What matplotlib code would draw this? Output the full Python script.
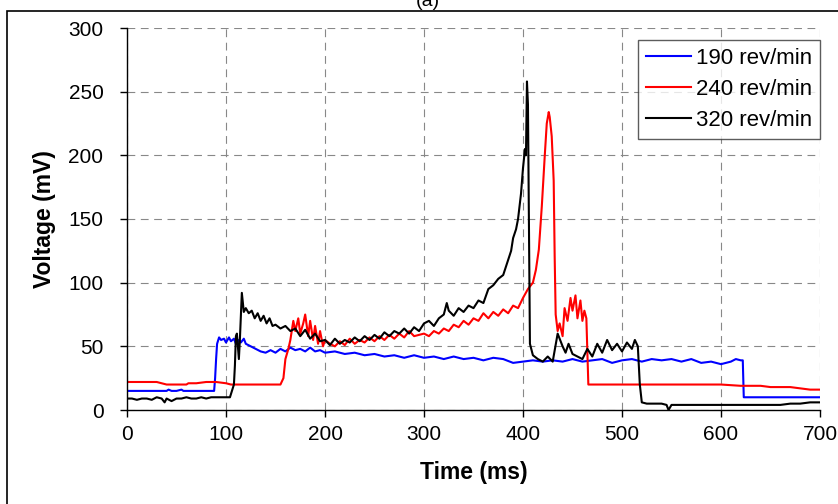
import matplotlib
matplotlib.use("Agg")
import matplotlib.pyplot as plt
from matplotlib.patches import Rectangle

plt.rcParams['font.family'] = ['Liberation Sans', 'DejaVu Sans']

# 190 rev/min (blue)
t_190 = [0, 10, 20, 30, 40, 42, 45, 50, 55, 57, 60, 70, 80, 88, 89, 90, 91, 93, 95, 98,
         100, 103, 105, 108, 110, 113, 115, 118, 120, 125, 130, 135, 140, 145, 150, 155,
         160, 165, 170, 175, 180, 185, 190, 195, 200, 210, 220, 230, 240, 250, 260, 270,
         280, 290, 300, 310, 320, 330, 340, 350, 360, 370, 380, 390, 400, 410, 420, 430,
         440, 450, 460, 470, 480, 490, 500, 510, 520, 530, 540, 550, 560, 570, 580, 590,
         600, 610, 615, 620, 622, 623, 630, 700]
v_190 = [15, 15, 15, 15, 15, 16, 15, 15, 16, 15, 15, 15, 15, 15, 25, 40, 52, 57, 55, 56,
         53, 57, 54, 56, 52, 55, 53, 56, 52, 50, 48, 46, 45, 47, 45, 48,
         46, 49, 47, 48, 46, 49, 46, 47, 45, 46, 44, 45, 43, 44, 42, 43,
         41, 43, 41, 42, 40, 42, 40, 41, 39, 41, 40, 37, 38, 39, 38, 39,
         38, 40, 38, 39, 40, 37, 39, 40, 38, 40, 39, 40, 38, 40, 37, 38,
         36, 38, 40, 39, 39, 10, 10, 10]

# 240 rev/min (red)
t_240 = [0, 10, 20, 30, 35, 40, 50, 60, 62, 70, 80, 90, 100, 105, 110, 120, 130, 140, 150,
         155, 158, 160, 163, 165, 168, 170, 173, 175, 178, 180, 183, 185, 188, 190, 193,
         195, 198, 200, 205, 210, 215, 220, 225, 230, 235, 240, 245, 250, 255, 260, 265,
         270, 275, 280, 285, 290, 295, 300, 305, 310, 315, 320, 325, 330, 335, 340, 345,
         350, 355, 360, 365, 370, 375, 380, 385, 390, 395, 400, 405, 410, 413, 416, 419,
         422, 424, 426, 427, 429, 431, 432, 433, 435, 437, 440, 442, 445, 448, 450, 453,
         455, 458, 460, 462, 464, 466, 470, 480, 500, 520, 540, 560, 580, 600, 620, 630,
         640, 650, 660, 670, 680, 690, 700]
v_240 = [22, 22, 22, 22, 21, 20, 20, 20, 21, 21, 22, 22, 21, 20, 20, 20, 20, 20, 20,
         20, 25, 40, 48, 55, 70, 62, 72, 60, 68, 75, 58, 70, 55, 66, 52,
         62, 50, 55, 52, 50, 54, 51, 56, 52, 55, 53, 57, 54, 58, 55, 59,
         56, 60, 57, 62, 58, 59, 60, 58, 62, 60, 64, 62, 67, 65, 70, 67,
         72, 70, 76, 72, 77, 74, 79, 76, 82, 80, 88, 95, 100, 110, 126, 160,
         200, 225, 234, 230, 215, 180, 120, 75, 62, 68, 58, 80, 70, 88, 78, 90,
         72, 86, 70, 78, 72, 20, 20, 20, 20, 20, 20, 20, 20, 20, 19, 19,
         19, 18, 18, 18, 17, 16, 16]

# 320 rev/min (black)
t_320 = [0, 5, 10, 15, 20, 25, 30, 35, 38, 40, 45, 50, 55, 60, 65, 70, 75, 80, 85, 90,
         95, 100, 104, 106, 108, 109, 110, 111, 113, 114, 116, 118, 120, 123, 126, 129,
         132, 135, 138, 141, 144, 147, 150, 155, 160, 165, 170, 175, 180, 185, 190, 195,
         200, 205, 210, 215, 220, 225, 230, 235, 240, 245, 250, 255, 260, 265, 270, 275,
         280, 285, 290, 295, 300, 305, 310, 315, 320, 323, 325, 330, 335, 340, 345, 350,
         355, 360, 365, 370, 375, 380, 385, 388, 390, 393, 395, 398, 400, 402, 403, 404,
         405, 407, 410, 415, 420, 425, 430, 435, 440, 443, 446, 450, 455, 460, 465, 470,
         475, 480, 485, 490, 495, 500, 505, 510, 513, 516, 518, 520, 525, 530, 540, 545,
         547, 550, 560, 570, 580, 600, 620, 640, 660, 670, 680, 690, 700]
v_320 = [9, 9, 8, 9, 9, 8, 10, 9, 6, 9, 7, 9, 9, 10, 9, 9, 10, 9, 10, 10,
         10, 10, 10, 15, 20, 35, 58, 60, 40, 55, 92, 77, 80, 76, 78, 72,
         76, 70, 74, 68, 72, 66, 67, 64, 66, 62, 64, 58, 63, 56, 60, 54,
         55, 51, 56, 52, 55, 53, 57, 54, 58, 55, 59, 56, 61, 58, 62, 60,
         64, 60, 65, 62, 68, 70, 66, 72, 75, 84, 78, 74, 80, 77, 82, 80,
         86, 84, 95, 98, 103, 106, 118, 125, 135, 142, 150, 170, 190, 205, 200, 258,
         240, 52, 43, 40, 38, 42, 38, 60, 50, 45, 52, 44, 42, 40, 48, 42,
         52, 45, 55, 47, 52, 46, 53, 48, 55, 50, 20, 6, 5, 5, 5, 4,
         0, 4, 4, 4, 4, 4, 4, 4, 4, 5, 5, 6, 6]

labels = ["190 rev/min", "240 rev/min", "320 rev/min"]
colors = ["blue", "red", "black"]

fig = plt.figure(figsize=(8.38, 5.04), dpi=100)
ax = fig.add_axes([127/838, 1 - 410/504, 693/838, 382/504])

ax.plot(t_190, v_190, color=colors[0], linewidth=1.5, label=labels[0])
ax.plot(t_240, v_240, color=colors[1], linewidth=1.5, label=labels[1])
ax.plot(t_320, v_320, color=colors[2], linewidth=1.5, label=labels[2])

ax.set_xlim(0, 700)
ax.set_ylim(0, 300)
ax.set_xticks(range(0, 701, 100))
ax.set_yticks(range(0, 301, 50))
ax.tick_params(direction='out', length=5, width=1, labelsize=15)
ax.tick_params(axis='y', pad=12)
ax.tick_params(axis='x', pad=6)
ax.spines['top'].set_visible(False)
ax.spines['right'].set_visible(False)
ax.spines['left'].set_linewidth(1)
ax.spines['bottom'].set_linewidth(1)

# Grid tracejado cinza
ax.grid(True, color='#888888', linestyle=(0, (7, 5)), linewidth=0.8)
ax.set_axisbelow(True)

ax.set_xlabel("Time (ms)", fontsize=16.5, fontweight='bold', labelpad=12)
ax.set_ylabel("Voltage (mV)", fontsize=16.5, fontweight='bold', labelpad=9)

leg = ax.legend(loc='upper right', bbox_to_anchor=(1.0, 0.9686), borderaxespad=0,
                fontsize=16, frameon=True, fancybox=False, handlelength=2.0,
                labelspacing=0.45, borderpad=0.35, handletextpad=0.25)
leg.get_frame().set_edgecolor('#333333')
leg.get_frame().set_linewidth(1)
for line in leg.get_lines():
    line.set_linewidth(1.5)

# Moldura do gráfico e título cortado
fig.patches.append(Rectangle((7/838, -0.1), 1.2, 1.1 - 11/504, transform=fig.transFigure,
                             fill=False, edgecolor='black', linewidth=1.2))
fig.text(428/838, 1 - 1/504, "(a)", ha='center', va='center', fontsize=14)

fig.savefig("out.png", dpi=100)
